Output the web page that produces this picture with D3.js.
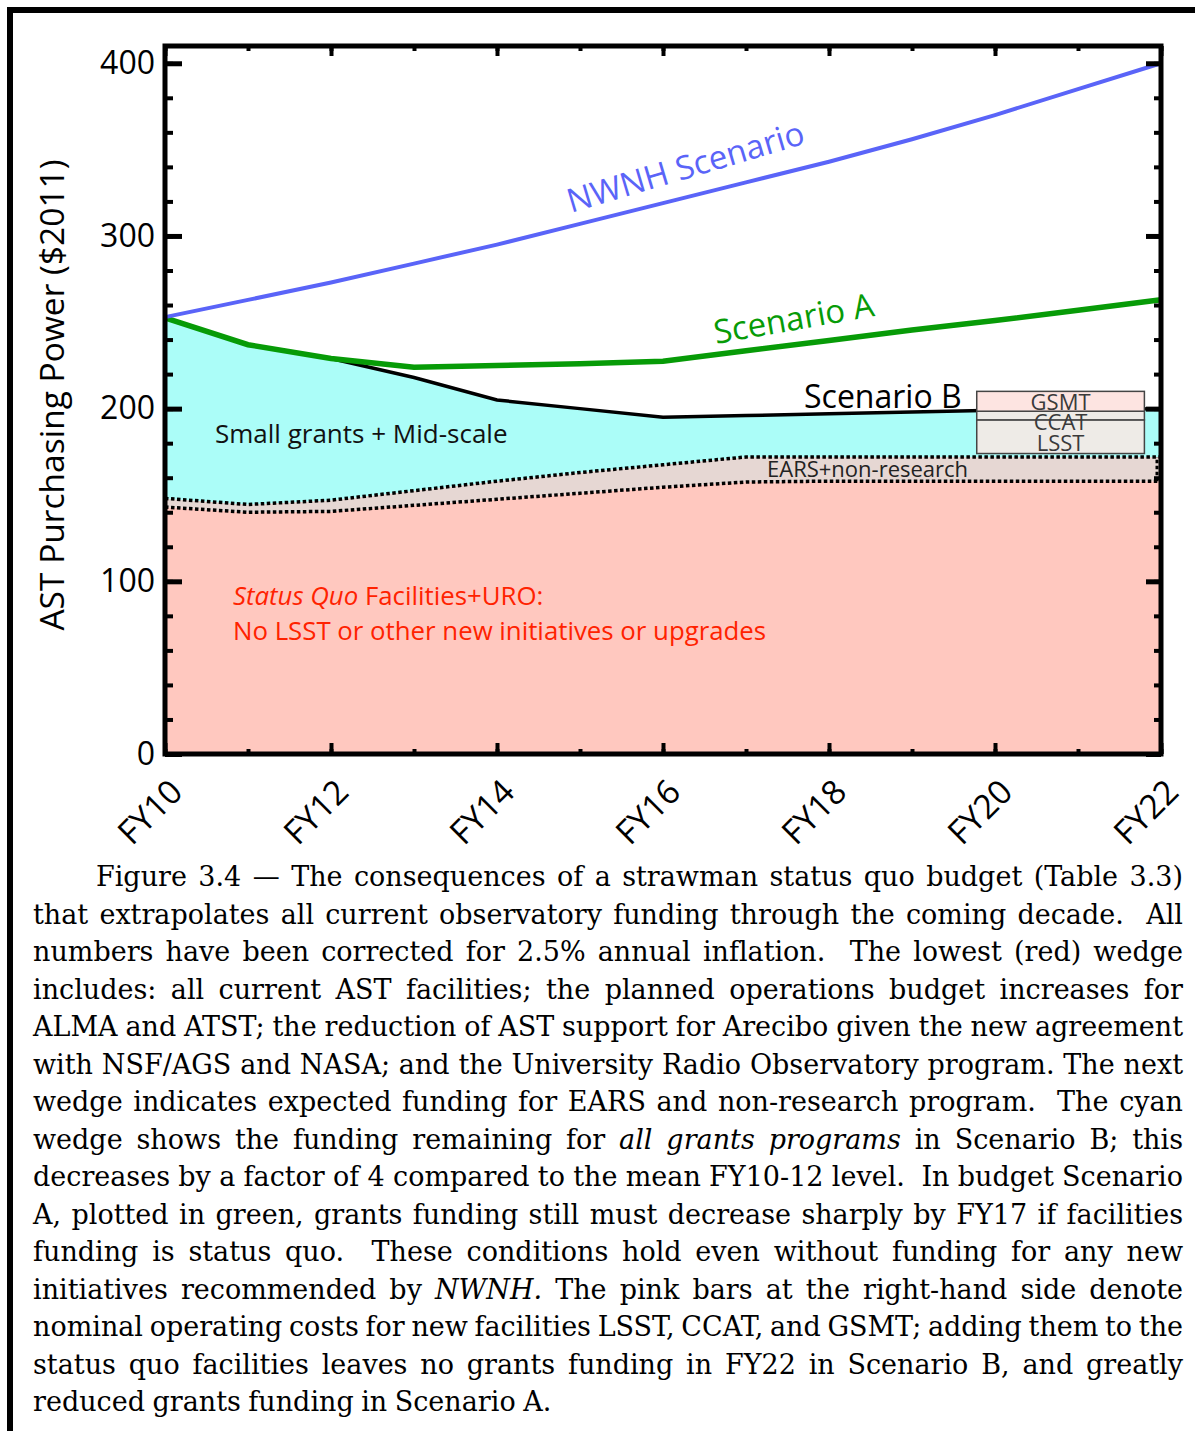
<!DOCTYPE html>
<html>
<head>
<meta charset="utf-8">
<script src="https://cdn.jsdelivr.net/npm/d3@7"></script>
<style>
  body { margin: 0; background: #fff; }
  svg text { font-family: "Open Sans", sans-serif; }
  svg text.caption { font-family: "DejaVu Serif", serif; font-variant-ligatures: none; }
</style>
</head>
<body>
<div id="chart"></div>
<script>
(function () {

  // data (AST purchasing power, $2011)
  var years = [10, 11, 12, 13, 14, 15, 16, 17, 18, 19, 20, 21, 22];
  var nwnh      = [253, 263, 273, 284, 295, 307, 319, 331, 343, 356, 370, 385, 400];
  var scenarioA = [252.5, 237, 229, 224, 225, 226, 227.5, 233.5, 239.5, 245.5, 251, 257, 263];
  var scenarioB = [252.5, 237, 229, 218, 205, 200, 195, 196, 197, 198, 199, 199.5, 200];
  var earsTop   = [148, 144.5, 147, 152.5, 158, 163, 167.5, 172, 172, 172, 172, 172, 172];
  var statusQuo = [143, 140, 140.5, 144, 147.5, 151, 154.5, 157.5, 158, 158, 158, 158, 158];

  // new facilities bars at the right-hand side
  var facilityNames = ["LSST", "CCAT", "GSMT"];
  var facilityCosts = [19.5, 5, 11.5];
  var facilityBase = 174;
  var facilitySpan = [19.78, 21.8];

  var yMajor = [0, 100, 200, 300, 400];
  var yMinor = d3.range(0, 401, 20);
  var xMajor = [10, 12, 14, 16, 18, 20, 22];
  var xMinor = d3.range(10, 23, 1);

  var captionLines = [
    "Figure 3.4 \u2014 The consequences of a strawman status quo budget (Table 3.3)",
    "that extrapolates all current observatory funding through the coming decade.  All",
    "numbers have been corrected for 2.5% annual inflation.  The lowest (red) wedge",
    "includes: all current AST facilities; the planned operations budget increases for",
    "ALMA and ATST; the reduction of AST support for Arecibo given the new agreement",
    "with NSF/AGS and NASA; and the University Radio Observatory program. The next",
    "wedge indicates expected funding for EARS and non-research program.  The cyan",
    "wedge shows the funding remaining for *all grants programs* in Scenario B; this",
    "decreases by a factor of 4 compared to the mean FY10-12 level.  In budget Scenario",
    "A, plotted in green, grants funding still must decrease sharply by FY17 if facilities",
    "funding is status quo.  These conditions hold even without funding for any new",
    "initiatives recommended by *NWNH*. The pink bars at the right-hand side denote",
    "nominal operating costs for new facilities LSST, CCAT, and GSMT; adding them to the",
    "status quo facilities leaves no grants funding in FY22 in Scenario B, and greatly",
    "reduced grants funding in Scenario A."
  ];

  var width = 1195,
      height = 1431;

  var svg = d3.select("#chart")
    .append("svg")
    .attr("width", width)
    .attr("height", height);

  // outer frame (left + top only)
  svg.append("path")
    .attr("d", "M10," + height + "V10H" + width)
    .attr("fill", "none")
    .attr("stroke", "#000")
    .attr("stroke-width", 6);

  var x = d3.scaleLinear().domain([10, 22]).range([165, 1161]);
  var y = d3.scaleLinear().domain([0, 410]).range([754, 46]);

  var rows = years.map(function (yr, i) {
    return { yr: yr, nwnh: nwnh[i], a: scenarioA[i], b: scenarioB[i], ears: earsTop[i], sq: statusQuo[i] };
  });

  function band(lo, hi) {
    return d3.area()
      .x(function (d) { return x(d.yr) })
      .y0(function (d) { return lo(d) })
      .y1(function (d) { return hi(d) });
  }

  // wedges
  svg.append("path").datum(rows)
    .attr("fill", "#ffc8bf")
    .attr("d", band(function () { return y(0) }, function (d) { return y(d.sq) }));
  svg.append("path").datum(rows)
    .attr("fill", "#e6d7d3")
    .attr("d", band(function (d) { return y(d.sq) }, function (d) { return y(d.ears) }));
  svg.append("path").datum(rows)
    .attr("fill", "#abfdf8")
    .attr("d", band(function (d) { return y(d.ears) }, function (d) { return y(d.b) }));

  function line(key) {
    return d3.line()
      .x(function (d) { return x(d.yr) })
      .y(function (d) { return y(d[key]) });
  }

  // dotted boundaries
  ["sq", "ears"].forEach(function (k) {
    svg.append("path").datum(rows)
      .attr("fill", "none")
      .attr("stroke", "#000")
      .attr("stroke-width", 3.5)
      .attr("stroke-dasharray", "3.5,2.5")
      .attr("d", line(k));
  });
  svg.append("line")
    .attr("x1", x(22) - 4).attr("x2", x(22) - 4)
    .attr("y1", y(statusQuo[12])).attr("y2", y(earsTop[12]))
    .attr("stroke", "#000")
    .attr("stroke-width", 3)
    .attr("stroke-dasharray", "3.5,2.5");

  // scenario lines
  svg.append("path").datum(rows)
    .attr("fill", "none").attr("stroke", "#000").attr("stroke-width", 3.5)
    .attr("d", line("b"));
  svg.append("path").datum(rows)
    .attr("fill", "none").attr("stroke", "#079b07").attr("stroke-width", 5.5)
    .attr("d", line("a"));
  svg.append("path").datum(rows)
    .attr("fill", "none").attr("stroke", "#5a64f8").attr("stroke-width", 4)
    .attr("d", line("nwnh"));

  // facility bars
  var stack = [];
  var base = facilityBase;
  facilityNames.forEach(function (n, i) {
    stack.push({ name: n, i: i, lo: base, hi: base + facilityCosts[i] });
    base += facilityCosts[i];
  });
  svg.selectAll(".fac")
    .data(stack)
    .enter().append("rect")
    .attr("class", "fac")
    .attr("x", x(facilitySpan[0]))
    .attr("width", x(facilitySpan[1]) - x(facilitySpan[0]))
    .attr("y", function (d) { return y(d.hi) })
    .attr("height", function (d) { return y(d.lo) - y(d.hi) })
    .attr("fill", function (d) { return d.name === "GSMT" ? "#fde4e1" : "#eeebe7" })
    .attr("stroke", "#444")
    .attr("stroke-width", 1.5);
  // labels are stacked evenly, they spill over the thin CCAT box like the original
  svg.selectAll(".fac-label")
    .data(stack)
    .enter().append("text")
    .attr("class", "fac-label")
    .attr("x", (x(facilitySpan[0]) + x(facilitySpan[1])) / 2)
    .attr("y", function (d) { return y(facilityBase) - 3 - d.i * 20.5 })
    .attr("text-anchor", "middle")
    .attr("font-size", 22)
    .attr("fill", "#3a3a3a")
    .text(function (d) { return d.name });

  // labels inside the chart
  function label(txt, px, py, size, color, rot) {
    return svg.append("text")
      .attr("transform", "translate(" + px + "," + py + ") rotate(" + (rot || 0) + ")")
      .attr("font-size", size)
      .attr("fill", color)
      .text(txt);
  }
  label("NWNH Scenario", 571, 213, 33, "#5a64f8", -16.5);
  label("Scenario A", 716, 344, 33, "#079b07", -10);
  label("Scenario B", 804, 408, 32, "#000", 0);
  label("Small grants + Mid-scale", 215, 443, 26, "#111", 0);
  label("EARS+non-research", 767, 477, 22, "#222", 0);

  var red = svg.append("text")
    .attr("x", 233).attr("y", 605)
    .attr("font-size", 25.8)
    .attr("fill", "#ff2200");
  red.append("tspan").attr("font-style", "italic").text("Status Quo");
  red.append("tspan").text(" Facilities+URO:");
  svg.append("text")
    .attr("x", 233).attr("y", 640)
    .attr("font-size", 25.8)
    .attr("fill", "#ff2200")
    .text("No LSST or other new initiatives or upgrades");

  // axes: ticks point inward
  function styleAxis(g, w) {
    g.select(".domain").remove();
    g.selectAll(".tick line").attr("stroke", "#000").attr("stroke-width", w);
  }

  var noLabel = function () { return "" };

  svg.append("g").attr("transform", "translate(165,0)")
    .call(d3.axisLeft(y).tickValues(yMinor).tickSize(-8).tickSizeOuter(0).tickFormat(noLabel))
    .call(styleAxis, 4);
  var yAxis = svg.append("g").attr("transform", "translate(165,0)")
    .call(d3.axisLeft(y).tickValues(yMajor).tickSize(-17).tickSizeOuter(0).tickPadding(10))
    .call(styleAxis, 5);
  yAxis.attr("font-family", null);
  yAxis.selectAll("text")
    .attr("font-size", 32)
    .attr("fill", "#000");

  svg.append("g").attr("transform", "translate(1161,0)")
    .call(d3.axisRight(y).tickValues(yMinor).tickSize(-7).tickSizeOuter(0).tickFormat(noLabel))
    .call(styleAxis, 4);
  svg.append("g").attr("transform", "translate(1161,0)")
    .call(d3.axisRight(y).tickValues(yMajor).tickSize(-15).tickSizeOuter(0).tickFormat(noLabel))
    .call(styleAxis, 5);

  svg.append("g").attr("transform", "translate(0,46)")
    .call(d3.axisTop(x).tickValues(xMinor).tickSize(-5).tickSizeOuter(0).tickFormat(noLabel))
    .call(styleAxis, 4);
  svg.append("g").attr("transform", "translate(0,46)")
    .call(d3.axisTop(x).tickValues(xMajor).tickSize(-10).tickSizeOuter(0).tickFormat(noLabel))
    .call(styleAxis, 4);

  svg.append("g").attr("transform", "translate(0,754)")
    .call(d3.axisBottom(x).tickValues(xMinor).tickSize(-5).tickSizeOuter(0).tickFormat(noLabel))
    .call(styleAxis, 4);
  var xAxis = svg.append("g").attr("transform", "translate(0,754)")
    .call(d3.axisBottom(x).tickValues(xMajor).tickSize(-11).tickSizeOuter(0)
      .tickFormat(function (d) { return "FY" + d }))
    .call(styleAxis, 4);
  xAxis.selectAll("text")
    .attr("y", null).attr("dy", null)
    .attr("transform", "translate(19,40) rotate(-45)")
    .attr("text-anchor", "end")
    .attr("font-size", 33.5)
    .attr("fill", "#000");

  // plot frame
  svg.append("rect")
    .attr("x", 165).attr("y", 46)
    .attr("width", 1161 - 165).attr("height", 754 - 46)
    .attr("fill", "none")
    .attr("stroke", "#000")
    .attr("stroke-width", 5);

  // y axis title
  svg.append("text")
    .attr("transform", "translate(64,395) rotate(-90)")
    .attr("text-anchor", "middle")
    .attr("font-size", 33.5)
    .attr("fill", "#000")
    .text("AST Purchasing Power ($2011)");

  // caption, justified by hand
  var capLeft = 33, capRight = 1183, capTop = 886, capStep = 37.5, capIndent = 96;
  var cap = svg.append("g")
    .attr("font-size", 27)
    .attr("fill", "#000");

  captionLines.forEach(function (ln, li) {
    // split into words, keeping italic flags and gap widths
    var words = [];
    var italic = false;
    var gap = 0;
    var parts = ln.split(/( +)/);
    parts.forEach(function (p) {
      if (p === "") return;
      if (/^ +$/.test(p)) { gap = p.length; return; }
      var it = italic;
      var w = p;
      if (w.charAt(0) === "*") { it = true; italic = true; w = w.slice(1); }
      if (w.charAt(w.length - 1) === "*") { italic = false; w = w.slice(0, -1); }
      else if (w.indexOf("*") > 0) { italic = false; w = w.replace("*", ""); }
      words.push({ w: w, it: it, gap: words.length ? gap : 0 });
      gap = 0;
    });

    // each word is its own text node so shaping never runs across words
    var y0 = capTop + li * capStep;
    var t = cap.selectAll(".cap-" + li)
      .data(words)
      .enter().append("text")
      .attr("class", "caption cap-" + li)
      .attr("y", y0)
      .attr("font-style", function (d) { return d.it ? "italic" : null })
      .text(function (d) { return d.w });

    t.each(function (d) { d.len = this.getComputedTextLength() });
    var start = li === 0 ? capIndent : capLeft;
    var total = d3.sum(words, function (d) { return d.len });
    var gaps = d3.sum(words, function (d) { return d.gap });
    var sp = li === captionLines.length - 1 ? 7.5 : Math.max(2, (capRight - start - total) / gaps);
    var cx = start;
    t.attr("x", function (d) {
      cx += d.gap * sp;
      var v = cx;
      cx += d.len;
      return v;
    });
  });

})()
</script>
</body>
</html>
